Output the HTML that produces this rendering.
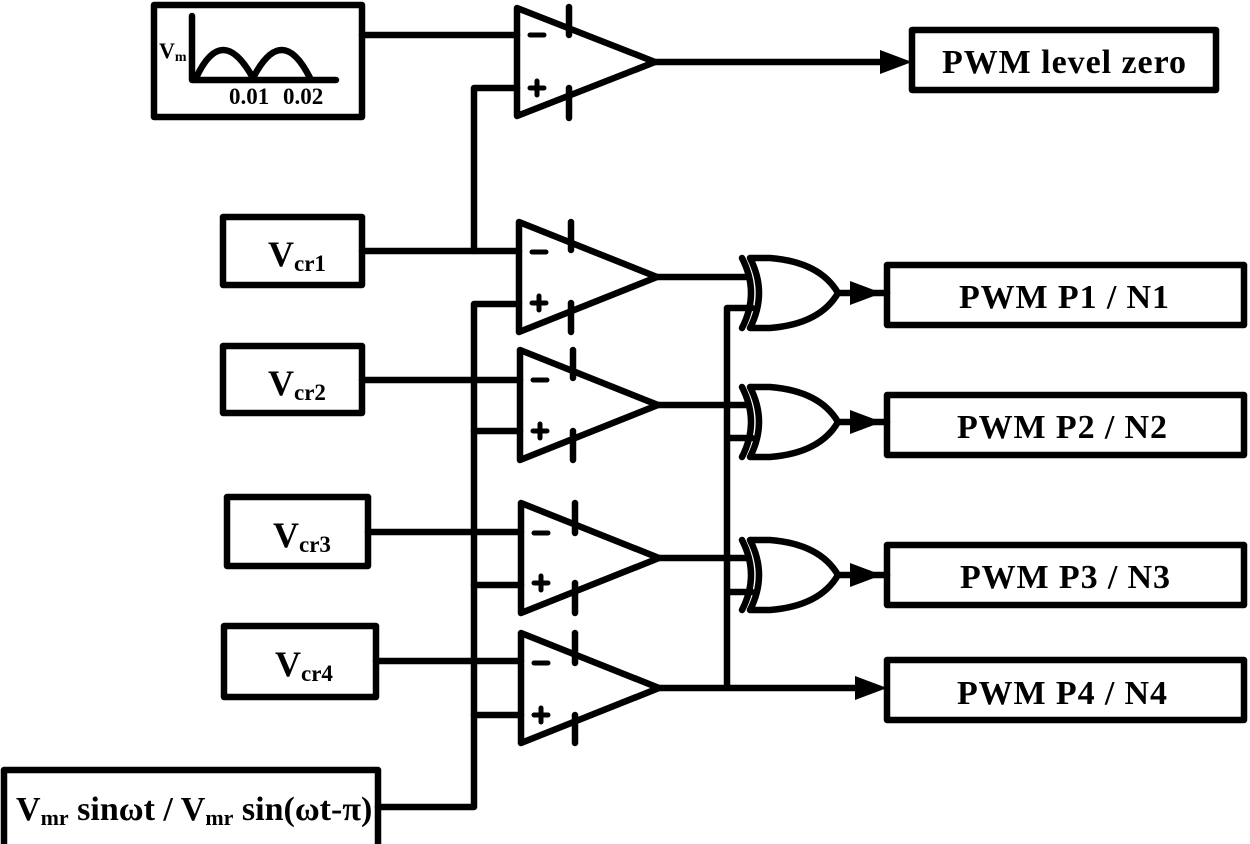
<!DOCTYPE html>
<html><head><style>body{margin:0;background:#fff}svg{display:block}</style></head><body>
<svg width="1250" height="844" viewBox="0 0 1250 844" xmlns="http://www.w3.org/2000/svg">
<g fill="none" stroke="#000" stroke-width="6.5" stroke-linejoin="round" stroke-linecap="round">
<rect x="154" y="5" width="208" height="112"/>
<rect x="223" y="217" width="139" height="68"/>
<rect x="223" y="346" width="139" height="67"/>
<rect x="227" y="497" width="141" height="69"/>
<rect x="224" y="626" width="152" height="71"/>
<rect x="4" y="770" width="374" height="80"/>
<rect x="912" y="30" width="304" height="60"/>
<rect x="887" y="265" width="357" height="60"/>
<rect x="887" y="395" width="357" height="60"/>
<rect x="887" y="545" width="357" height="60"/>
<rect x="887" y="660" width="357" height="60"/>
<path d="M192 16 V80 H336"/>
<path d="M196 78 Q222 22 253 78 Q282 22 310 78"/>
<path d="M517 8 L655 62 L517 116 Z"/>
<path d="M519 222 L657 277 L519 332 Z"/>
<path d="M520 350 L658 405 L520 460 Z"/>
<path d="M521 503 L659 558 L521 613 Z"/>
<path d="M521 633 L659 688 L521 743 Z"/>
<path d="M569 7 V35 M569 88 V118"/>
<path d="M571 222 V250 M571 303 V332"/>
<path d="M573 350 V378 M573 431 V460"/>
<path d="M575 503 V533 M575 583 V613"/>
<path d="M575 633 V663 M575 715 V743"/>
<g stroke-width="5">
<path d="M530 35 H544 M530 88 H544 M537 81 V95"/>
<path d="M532 252 H546 M532 303 H546 M539 296 V310"/>
<path d="M533 380 H547 M533 431 H547 M540 424 V438"/>
<path d="M534 533 H548 M534 583 H548 M541 576 V590"/>
<path d="M534 663 H548 M534 715 H548 M541 708 V722"/>
</g>
<path d="M362 35 H517"/>
<path d="M362 251 H519"/>
<path d="M474 251 V88 H517"/>
<path d="M362 380 H520"/>
<path d="M368 532 H521"/>
<path d="M376 661 H521"/>
<path d="M378 807 H474 V304 H519"/>
<path d="M474 431 H520 M474 585 H521 M474 715 H521"/>
<path d="M655 62 H885"/>
<path d="M657 277 H748"/>
<path d="M658 405 H748"/>
<path d="M659 558 H748"/>
<path d="M659 688 H860"/>
<path d="M727 687 V308 H752 M727 438 H752 M727 592 H752"/>
<g>
<path d="M750 258 Q768 293 750 328 M750 258 H770 Q820 262 838 293 Q820 324 770 328 H750"/>
<path d="M742 258 Q760 293 742 328"/>
<path d="M750 387 Q768 422 750 457 M750 387 H770 Q820 391 838 422 Q820 453 770 457 H750"/>
<path d="M742 387 Q760 422 742 457"/>
<path d="M750 540 Q768 575 750 610 M750 540 H770 Q820 544 838 575 Q820 606 770 610 H750"/>
<path d="M742 540 Q760 575 742 610"/>
</g>
<path d="M838 293 H887 M838 422 H887 M838 575 H887"/>
</g>
<g fill="#000">
<polygon points="880,50 912,62 880,74"/>
<polygon points="850,281 882,293 850,305"/>
<polygon points="850,410 882,422 850,434"/>
<polygon points="850,563 882,575 850,587"/>
<polygon points="855,676 887,688 855,700"/>
</g>
<g font-family="Liberation Serif, serif" font-weight="bold" fill="#000">
<text x="159" y="58" font-size="22">V<tspan font-size="14" dy="3">m</tspan></text>
<text x="229" y="104" font-size="23">0.01</text>
<text x="283" y="104" font-size="23">0.02</text>
<text x="268" y="266" font-size="36">V<tspan font-size="23" dy="5">cr1</tspan></text>
<text x="268" y="395" font-size="36">V<tspan font-size="23" dy="5">cr2</tspan></text>
<text x="273" y="547" font-size="36">V<tspan font-size="23" dy="5">cr3</tspan></text>
<text x="275" y="676" font-size="36">V<tspan font-size="23" dy="5">cr4</tspan></text>
<text x="16" y="820" font-size="34">V<tspan font-size="22" dy="5">mr</tspan><tspan dy="-5"> sinωt / V</tspan><tspan font-size="22" dy="5">mr</tspan><tspan dy="-5"> sin(ωt-π)</tspan></text>
<text x="1064" y="73" font-size="34" text-anchor="middle" textLength="244">PWM level zero</text>
<text x="1064" y="308" font-size="34" text-anchor="middle" textLength="210">PWM P1 / N1</text>
<text x="1062" y="438" font-size="34" text-anchor="middle" textLength="210">PWM P2 / N2</text>
<text x="1065" y="588" font-size="34" text-anchor="middle" textLength="210">PWM P3 / N3</text>
<text x="1062" y="704" font-size="34" text-anchor="middle" textLength="210">PWM P4 / N4</text>
</g>
</svg>
</body></html>
